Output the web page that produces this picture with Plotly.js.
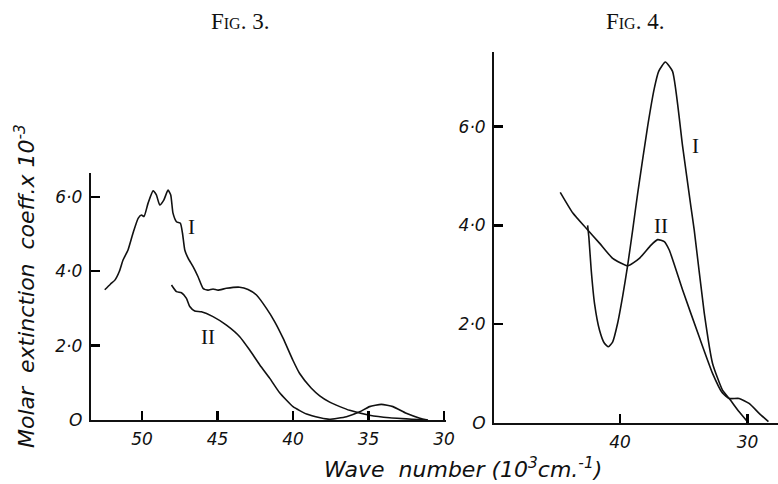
<!DOCTYPE html>
<html>
<head>
<meta charset="utf-8">
<script src="https://cdn.plot.ly/plotly-3.0.1.min.js"></script>
<style>html,body{margin:0;padding:0;background:#fff;}#chart{width:778px;height:484px;}</style>
</head>
<body>
<div id="chart"></div>
<script>
// Fig. 3 data (wave number in 10^3 cm^-1, molar extinction coeff x 10^-3)
var fig3_I_x = [52.47,52.1,51.8,51.5,51.26,50.93,50.6,50.26,50.04,49.87,49.6,49.27,49.05,48.83,48.56,48.28,48.1,47.95,47.72,47.46,47.32,47.17,46.95,46.62,46.29,45.96,45.63,45.3,44.97,44.41,43.53,42.98,42.42,41.76,41.21,40.66,40.0,39.56,38.8,38.23,37.57,36.9,36.25,34.93,33.6,31.2];
var fig3_I_y = [3.50,3.65,3.76,4.0,4.30,4.57,5.02,5.42,5.51,5.47,5.83,6.16,6.05,5.78,5.91,6.18,6.05,5.56,5.33,5.29,5.02,4.57,4.35,4.12,3.85,3.54,3.49,3.52,3.49,3.54,3.57,3.51,3.36,3.0,2.64,2.20,1.6,1.25,0.86,0.65,0.48,0.36,0.26,0.13,0.06,0.0];
var fig3_II_x = [48.05,47.72,47.39,47.06,46.84,46.51,46.07,45.3,44.41,43.53,42.87,42.2,41.54,40.9,40.0,39.1,38.2,37.6,36.46,35.58,34.93,34.15,33.38,32.5,31.6,31.06];
var fig3_II_y = [3.63,3.45,3.42,3.27,3.05,2.93,2.91,2.78,2.55,2.24,1.88,1.48,1.12,0.74,0.36,0.16,0.06,0.02,0.09,0.22,0.36,0.42,0.36,0.18,0.05,0.0];
// Fig. 4 data
var fig4_I_x = [42.55,42.45,42.27,42.01,41.62,41.23,40.92,40.58,40.19,39.8,39.4,39.01,38.62,37.84,37.31,36.97,36.45,35.88,35.09,34.44,34.18,33.39,32.74,31.96,31.43,30.65,30.0];
var fig4_I_y = [4.0,3.75,3.1,2.42,1.88,1.61,1.54,1.64,2.02,2.56,3.2,3.91,4.65,6.0,6.78,7.12,7.31,7.12,5.6,4.38,3.91,2.22,1.2,0.66,0.49,0.22,0.02];
var fig4_II_x = [44.7,43.71,42.66,41.62,40.58,39.4,38.49,37.57,37.05,36.53,36.14,35.09,33.79,32.74,31.96,31.43,30.65,29.87,29.08,28.35];
var fig4_II_y = [4.67,4.25,3.94,3.64,3.33,3.18,3.33,3.6,3.71,3.67,3.5,2.69,1.74,1.0,0.6,0.49,0.49,0.39,0.19,0.02];
// tick labels
var fig3_xticks = [50,45,40,35,30];
var fig4_xticks = [40,30];
var fig3_yticks = [0,2,4,6];
var fig4_yticks = [0,2,4,6];
var y_ticktext = ["O","2·0","4·0","6·0"];

var fig3_xrange = [53.4,29.85], fig3_yrange = [0,6.64];
var fig4_xrange = [49.9,27.6], fig4_yrange = [0,7.52];

var lineStyle = {color:'#111', width:1.6, shape:'spline', smoothing:0.5};
var traces = [
  {x:fig3_I_x, y:fig3_I_y, xaxis:'x', yaxis:'y', mode:'lines', line:lineStyle, hoverinfo:'skip'},
  {x:fig3_II_x, y:fig3_II_y, xaxis:'x', yaxis:'y', mode:'lines', line:lineStyle, hoverinfo:'skip'},
  {x:fig4_I_x, y:fig4_I_y, xaxis:'x2', yaxis:'y2', mode:'lines', line:lineStyle, hoverinfo:'skip'},
  {x:fig4_II_x, y:fig4_II_y, xaxis:'x2', yaxis:'y2', mode:'lines', line:lineStyle, hoverinfo:'skip'}
];

function tf(){ return {family:'DejaVu Sans', size:17, color:'#111', style:'italic'}; }
function ax(extra){
  var a = {showgrid:false, zeroline:false, showline:true, linewidth:2, linecolor:'#111',
    ticks:'inside', ticklen:9, tickwidth:2.5, tickcolor:'#000', tickfont:tf(), fixedrange:true, ticklabelstandoff:3};
  for (var k in extra) a[k] = extra[k];
  return a;
}
var layout = {
  width:778, height:484, margin:{l:0,r:0,t:0,b:0},
  paper_bgcolor:'#fff', plot_bgcolor:'#fff', showlegend:false,
  xaxis:ax({domain:[0.1166,0.5736], range:fig3_xrange, anchor:'y', tickmode:'array', tickvals:fig3_xticks, ticktext:fig3_xticks.map(String)}),
  yaxis:ax({domain:[0.1322,0.6426], range:fig3_yrange, anchor:'x', tickmode:'array', tickvals:fig3_yticks, ticktext:y_ticktext}),
  xaxis2:ax({domain:[0.635,1.0], range:fig4_xrange, anchor:'y2', tickmode:'array', tickvals:fig4_xticks, ticktext:fig4_xticks.map(String)}),
  yaxis2:ax({domain:[0.1267,0.8932], range:fig4_yrange, anchor:'x2', tickmode:'array', tickvals:fig4_yticks, ticktext:y_ticktext}),
  annotations:[
    {text:'Fig. 3.', xref:'paper', yref:'paper', x:240/778, y:1-21/484, xanchor:'center', yanchor:'middle', showarrow:false, font:{family:'Liberation Serif', size:23, color:'#111', variant:'small-caps'}},
    {text:'Fig. 4.', xref:'paper', yref:'paper', x:635/778, y:1-21/484, xanchor:'center', yanchor:'middle', showarrow:false, font:{family:'Liberation Serif', size:23, color:'#111', variant:'small-caps'}},
    {text:'Molar  extinction  coeff.x 10<sup>-3</sup>', xref:'paper', yref:'paper', x:25/778, y:1-286/484, xanchor:'center', yanchor:'middle', textangle:-90, showarrow:false, font:{family:'DejaVu Sans', size:22, color:'#111', style:'italic'}},
    {text:'Wave  number (10<sup>3</sup>cm.<sup>-1</sup>)', xref:'paper', yref:'paper', x:463/778, y:1-468/484, xanchor:'center', yanchor:'middle', showarrow:false, font:{family:'DejaVu Sans', size:22, color:'#111', style:'italic'}},
    {text:'I', xref:'x', yref:'y', x:46.73, y:5.2, showarrow:false, font:{family:'Liberation Serif', size:21, color:'#111'}},
    {text:'II', xref:'x', yref:'y', x:45.63, y:2.24, showarrow:false, font:{family:'Liberation Serif', size:21, color:'#111'}},
    {text:'I', xref:'x2', yref:'y2', x:34.04, y:5.6, showarrow:false, font:{family:'Liberation Serif', size:21, color:'#111'}},
    {text:'II', xref:'x2', yref:'y2', x:36.79, y:3.98, showarrow:false, font:{family:'Liberation Serif', size:21, color:'#111'}}
  ]
};
Plotly.newPlot('chart', traces, layout, {staticPlot:true, displayModeBar:false});
</script>
</body>
</html>
